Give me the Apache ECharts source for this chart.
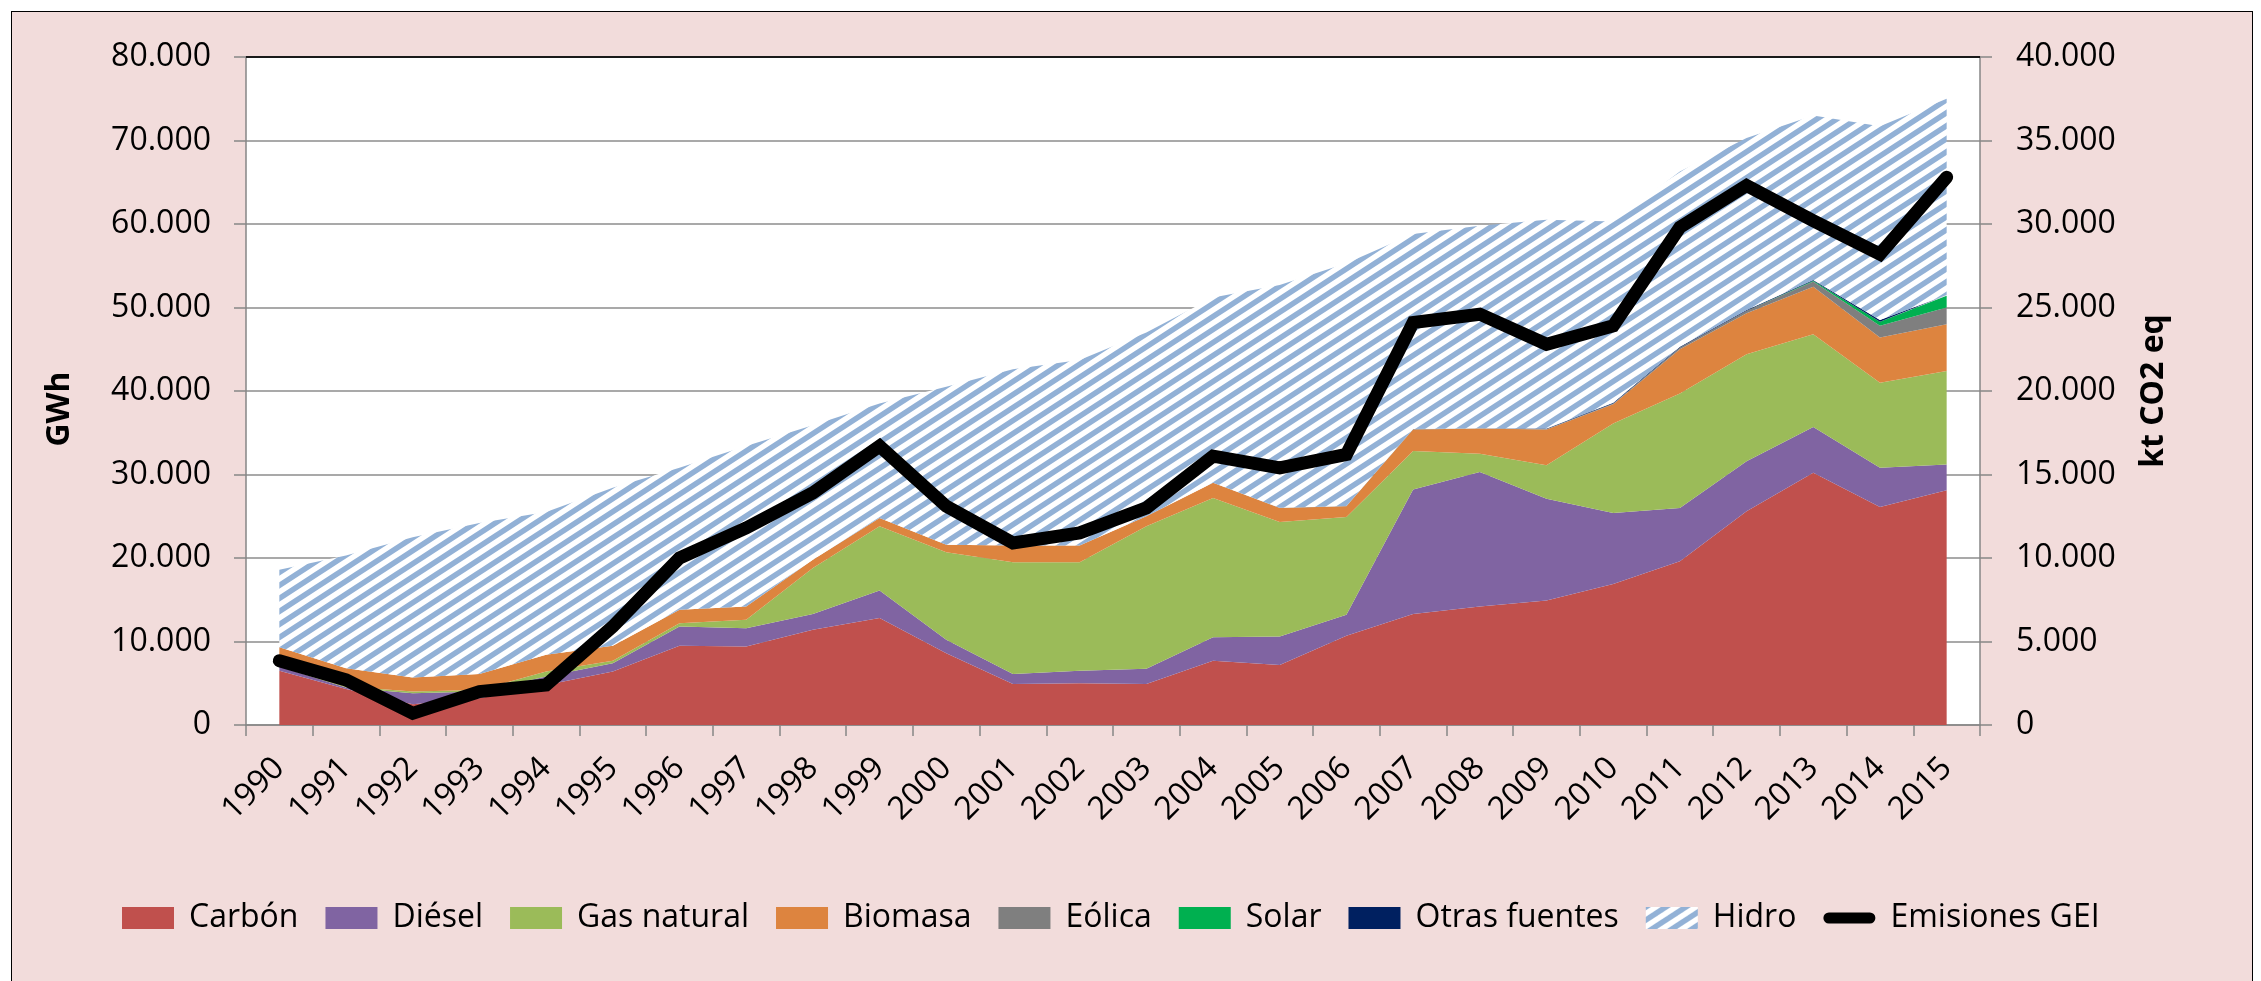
<!DOCTYPE html>
<html>
<head>
<meta charset="utf-8">
<script src="https://cdn.jsdelivr.net/npm/echarts@6/dist/echarts.min.js"></script>
<style>
  html, body { margin: 0; padding: 0; background: #ffffff; width: 2261px; height: 981px; overflow: hidden; }
  #frame { position: absolute; left: 11px; top: 11px; width: 2242px; height: 1000px; background: #F2DCDB; border: 1.5px solid #000; box-sizing: border-box; }
  #chart { position: absolute; left: 0; top: 0; width: 2261px; height: 981px; }
</style>
</head>
<body>
<div id="frame"></div>
<div id="chart"></div>
<script>
// ---- Data (GWh for generation, kt CO2 eq for emissions) ----
const years = ['1990','1991','1992','1993','1994','1995','1996','1997','1998','1999','2000','2001','2002','2003','2004','2005','2006','2007','2008','2009','2010','2011','2012','2013','2014','2015'];
const carbon   = [6500,4300,2500,3200,4800,6400,9500,9400,11400,12800,8600,4900,5000,4900,7700,7200,10700,13300,14200,14900,16900,19600,25600,30200,26100,28100];
const diesel   = [500,200,1300,800,1000,1000,2300,2200,1900,3300,1600,1200,1500,1850,2800,3400,2500,14900,16100,12200,8500,6400,6000,5500,4700,3100];
const gasNat   = [50,100,200,200,600,300,400,1000,5500,7700,10500,13400,13000,17050,16700,13700,11700,4600,2200,4000,10700,13700,12800,11100,10200,11200];
const biomasa  = [2250,2200,1700,1900,2000,1800,1600,1600,1000,1000,900,2000,2000,1200,1800,1700,1300,2600,3000,4300,2300,5300,4900,5700,5400,5600];
const eolica   = [0,0,0,0,0,0,0,0,0,0,0,0,0,0,20,20,20,50,50,50,100,200,300,600,1400,2000];
const solar    = [0,0,0,0,0,0,0,0,0,0,0,0,0,0,0,0,0,0,0,0,0,0,0,100,500,1400];
const otras    = [0,0,0,0,0,0,0,0,0,0,0,0,0,0,0,0,0,0,0,50,100,100,100,100,200,100];
const hidro    = [9300,13500,16800,18100,17100,18900,17000,19200,16100,13700,18900,21100,22200,22000,22180,26680,29080,23350,24250,25000,21700,21000,20600,19700,23200,23500];
const emisiones = [3850,2700,700,2000,2400,5900,10000,11800,13900,16700,13100,10900,11500,13000,16100,15400,16200,24100,24600,22800,23900,29800,32300,30200,28200,32800];
const leftTicks = { min: 0, max: 80000, interval: 10000 };
const rightTicks = { min: 0, max: 40000, interval: 5000 };

// ---- Styling ----
const FONT = "'Open Sans', 'Noto Sans', sans-serif";
const AXIS_GRAY = '#868686';
const GRID = { left: 246, right: 281, top: 57, bottom: 256 };

function hatch() {
  const w = 20, h = 13;
  const c = document.createElement('canvas');
  c.width = w; c.height = h;
  const g = c.getContext('2d');
  g.fillStyle = '#ffffff';
  g.fillRect(0, 0, w, h);
  g.strokeStyle = '#92B1D6';
  g.lineWidth = 5.5;
  g.beginPath();
  g.moveTo(-w, h); g.lineTo(0, 0);
  g.moveTo(0, h); g.lineTo(w, 0);
  g.moveTo(w, h); g.lineTo(2 * w, 0);
  g.moveTo(-w, 2 * h); g.lineTo(w, 0);
  g.moveTo(0, 2 * h); g.lineTo(2 * w, 0);
  g.moveTo(-w, h); g.lineTo(w, -h);
  g.moveTo(0, h); g.lineTo(2 * w, -h);
  g.stroke();
  return { image: c, repeat: 'repeat' };
}
const hidroFill = hatch();

function fmt(v) { return String(v).replace(/\B(?=(\d{3})+(?!\d))/g, '.'); }

function areaSeries(name, data, color) {
  return {
    name: name, type: 'line', stack: 'gen', data: data,
    symbol: 'none', showSymbol: false,
    lineStyle: { width: 0, color: color },
    itemStyle: { color: color },
    areaStyle: { color: color, opacity: 1 },
    emphasis: { disabled: true },
    z: 2
  };
}

const lineIcon = 'path://M5.5,0 L46.5,0 A5.5,5.5 0 0 1 46.5,11 L5.5,11 A5.5,5.5 0 0 1 5.5,0 Z';

const chart = echarts.init(document.getElementById('chart'), null, { renderer: 'canvas' });
chart.setOption({
  backgroundColor: 'transparent',
  animation: false,
  textStyle: { fontFamily: FONT },
  grid: { left: GRID.left, right: GRID.right, top: GRID.top, bottom: GRID.bottom, show: true, backgroundColor: '#ffffff', borderWidth: 0 },
  legend: {
    left: 117, top: 897,
    itemWidth: 52, itemHeight: 22, itemGap: 27,
    symbolKeepAspect: true,
    textStyle: { fontFamily: FONT, fontSize: 32, color: '#000', padding: [0, 0, 0, 10] },
    data: [
      { name: 'Carbón', icon: 'rect' },
      { name: 'Diésel', icon: 'rect' },
      { name: 'Gas natural', icon: 'rect' },
      { name: 'Biomasa', icon: 'rect' },
      { name: 'Eólica', icon: 'rect' },
      { name: 'Solar', icon: 'rect' },
      { name: 'Otras fuentes', icon: 'rect' },
      { name: 'Hidro', icon: 'rect' },
      { name: 'Emisiones GEI', icon: lineIcon, itemStyle: { color: '#000' } }
    ]
  },
  xAxis: {
    type: 'category', data: years, boundaryGap: true,
    axisLine: { lineStyle: { color: AXIS_GRAY, width: 1.5 } },
    axisTick: { show: true, length: 11, alignWithLabel: false, lineStyle: { color: AXIS_GRAY, width: 1.5 } },
    axisLabel: { rotate: 45, margin: 38, fontSize: 32, color: '#000', fontFamily: FONT, interval: 0 },
    splitLine: { show: false }
  },
  yAxis: [
    {
      type: 'value', min: leftTicks.min, max: leftTicks.max, interval: leftTicks.interval,
      name: 'GWh', nameLocation: 'middle', nameRotate: 90, nameGap: 170,
      nameTextStyle: { fontFamily: FONT, fontSize: 32, fontWeight: 'bold', color: '#000', padding: [0, 36, 0, 0] },
      axisLine: { show: true, lineStyle: { color: AXIS_GRAY, width: 1.5 } },
      axisTick: { show: true, length: 12, lineStyle: { color: AXIS_GRAY, width: 1.5 } },
      axisLabel: { margin: 35, fontSize: 32, color: '#000', fontFamily: FONT, formatter: fmt },
      splitLine: { show: true, lineStyle: { color: '#8c8c8c', width: 1.5 } }
    },
    {
      type: 'value', min: rightTicks.min, max: rightTicks.max, interval: rightTicks.interval, position: 'right',
      name: 'kt CO2 eq', nameLocation: 'middle', nameRotate: 90, nameGap: 158,
      nameTextStyle: { fontFamily: FONT, fontSize: 32, fontWeight: 'bold', color: '#000' },
      axisLine: { show: true, lineStyle: { color: AXIS_GRAY, width: 1.5 } },
      axisTick: { show: true, length: 12, lineStyle: { color: AXIS_GRAY, width: 1.5 } },
      axisLabel: { margin: 36, fontSize: 32, color: '#000', fontFamily: FONT, formatter: fmt },
      splitLine: { show: false }
    }
  ],
  series: [
    areaSeries('Carbón', carbon, '#C0504D'),
    areaSeries('Diésel', diesel, '#8064A2'),
    areaSeries('Gas natural', gasNat, '#9BBB59'),
    areaSeries('Biomasa', biomasa, '#DD843F'),
    areaSeries('Eólica', eolica, '#7F7F7F'),
    areaSeries('Solar', solar, '#00B050'),
    areaSeries('Otras fuentes', otras, '#002060'),
    areaSeries('Hidro', hidro, hidroFill),
    {
      name: 'Emisiones GEI', type: 'line', yAxisIndex: 1, data: emisiones,
      symbol: 'none', showSymbol: false,
      lineStyle: { color: '#000', width: 13, join: 'miter', cap: 'round' },
      itemStyle: { color: '#000' },
      emphasis: { disabled: true },
      z: 5
    }
  ],
  graphic: [
    { type: 'line', z: 10, shape: { x1: GRID.left, y1: GRID.top, x2: 2261 - GRID.right, y2: GRID.top }, style: { stroke: '#1a1a1a', lineWidth: 2 } }
  ]
});
</script>
</body>
</html>
